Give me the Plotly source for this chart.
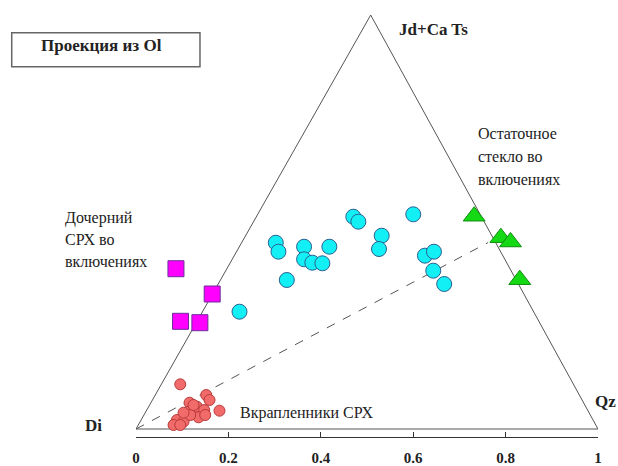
import plotly.graph_objects as go

# Triangle outline (Di, Qz, Jd+CaTs)
tri_x = [0.0, 1.0, 0.508, 0.0]
tri_y = [0.0, 0.0, 0.866, 0.0]

# Dashed trend line
trend_x = [0.0, 0.762]
trend_y = [0.0, 0.390]

# Daughter CPX in inclusions (magenta squares)
sq_x = [0.0865, 0.1649, 0.0964, 0.1383]
sq_y = [0.3353, 0.2824, 0.2253, 0.2224]

# Residual glass in inclusions (green triangles)
gl_x = [0.7320, 0.7897, 0.8107, 0.8307]
gl_y = [0.4451, 0.4002, 0.3912, 0.3123]

# Cyan circles
cy_x = [0.2240, 0.3026, 0.3083, 0.3264, 0.3638, 0.3638, 0.3817, 0.4034, 0.4185,
        0.4704, 0.4813, 0.5318, 0.5260, 0.6001, 0.6254, 0.6449, 0.6434, 0.6671]
cy_y = [0.2454, 0.3897, 0.3709, 0.3117, 0.3813, 0.3550, 0.3479, 0.3466, 0.3813,
        0.4441, 0.4337, 0.4044, 0.3765, 0.4491, 0.3626, 0.3709, 0.3312, 0.3033]

# Phenocryst CPX (red circles)
ph_x = [0.0958, 0.1807, 0.1520, 0.1591, 0.1159, 0.1319, 0.1137, 0.1476, 0.0886,
        0.1029, 0.1353, 0.1174, 0.0813, 0.0958, 0.1498, 0.1245, 0.1029]
ph_y = [0.0935, 0.0383, 0.0711, 0.0607, 0.0550, 0.0466, 0.0362, 0.0397, 0.0188,
        0.0153, 0.0245, 0.0293, 0.0084, 0.0084, 0.0293, 0.0502, 0.0341]

tick_vals = [0, 0.2, 0.4, 0.6, 0.8, 1]
tick_text = ["0", "0.2", "0.4", "0.6", "0.8", "1"]

fig = go.Figure()
fig.add_trace(go.Scatter(x=tri_x, y=tri_y, mode="lines",
                         line=dict(color="#555555", width=1), hoverinfo="skip"))
fig.add_trace(go.Scatter(x=trend_x, y=trend_y, mode="lines",
                         line=dict(color="#555555", width=1, dash="dash"), hoverinfo="skip"))
fig.add_trace(go.Scatter(x=ph_x, y=ph_y, mode="markers",
                         marker=dict(symbol="circle", size=11, color="#F26B6B",
                                     line=dict(color="#B83A3A", width=1))))
fig.add_trace(go.Scatter(x=cy_x, y=cy_y, mode="markers",
                         marker=dict(symbol="circle", size=15, color="#12F0F5",
                                     line=dict(color="#2A5F8F", width=1))))
fig.add_trace(go.Scatter(x=sq_x, y=sq_y, mode="markers",
                         marker=dict(symbol="square", size=16, color="#FF00FF",
                                     line=dict(color="#6A2E9A", width=1))))
fig.add_trace(go.Scatter(x=gl_x, y=gl_y, mode="markers",
                         marker=dict(symbol="triangle-up", size=19, color="#16D916",
                                     line=dict(color="#0E8E0E", width=1))))

serif = "Liberation Serif"
ann = []
def add(text, x, y, size, bold=False, xanchor="left"):
    ann.append(dict(text=("<b>%s</b>" % text) if bold else text, x=x, y=y,
                    xref="paper", yref="paper", xanchor=xanchor, yanchor="middle",
                    showarrow=False, font=dict(family=serif, size=size, color="#222222")))

add("Проекция из Ol", -0.0742, 0.918, 17, bold=True, xanchor="center")
add("Jd+Ca Ts", 0.5643, 0.9532, 17, bold=True)
add("Qz", 0.990, 0.0827, 17, bold=True)
add("Di", -0.1147, 0.0258, 17, bold=True)
add("Дочерний", -0.158, 0.5122, 16)
add("СРХ во", -0.158, 0.4614, 16)
add("включениях", -0.158, 0.4105, 16)
add("Остаточное", 0.7359, 0.7112, 16)
add("стекло во", 0.7359, 0.6564, 16)
add("включениях", 0.7359, 0.6042, 16)
add("Вкрапленники СРХ", 0.2214, 0.0569, 16)

fig.update_layout(
    width=618, height=466,
    margin=dict(l=136, r=20, t=10, b=29),
    paper_bgcolor="white", plot_bgcolor="white",
    showlegend=False,
    annotations=ann,
    shapes=[dict(type="rect", xref="paper", yref="paper",
                 x0=-0.269, x1=0.1385, y0=0.8672, y1=0.9468,
                 line=dict(color="#666666", width=1.5), fillcolor="rgba(0,0,0,0)")],
    xaxis=dict(range=[0, 1], tickvals=tick_vals, ticktext=tick_text,
               showgrid=False, zeroline=False, showline=True, linecolor="#333333",
               linewidth=1, ticks="inside", ticklen=5, tickcolor="#333333",
               tickfont=dict(family=serif, size=15, color="#222222", weight="bold"),
               ticklabelstandoff=7,
               automargin=False, fixedrange=True),
    yaxis=dict(range=[-0.01673, 0.8765], visible=False, showgrid=False,
               zeroline=False, automargin=False, fixedrange=True),
)

fig.write_html("out.html", config={"displayModeBar": False},
               post_script="document.body.style.margin='0';document.body.style.overflow='hidden';")
